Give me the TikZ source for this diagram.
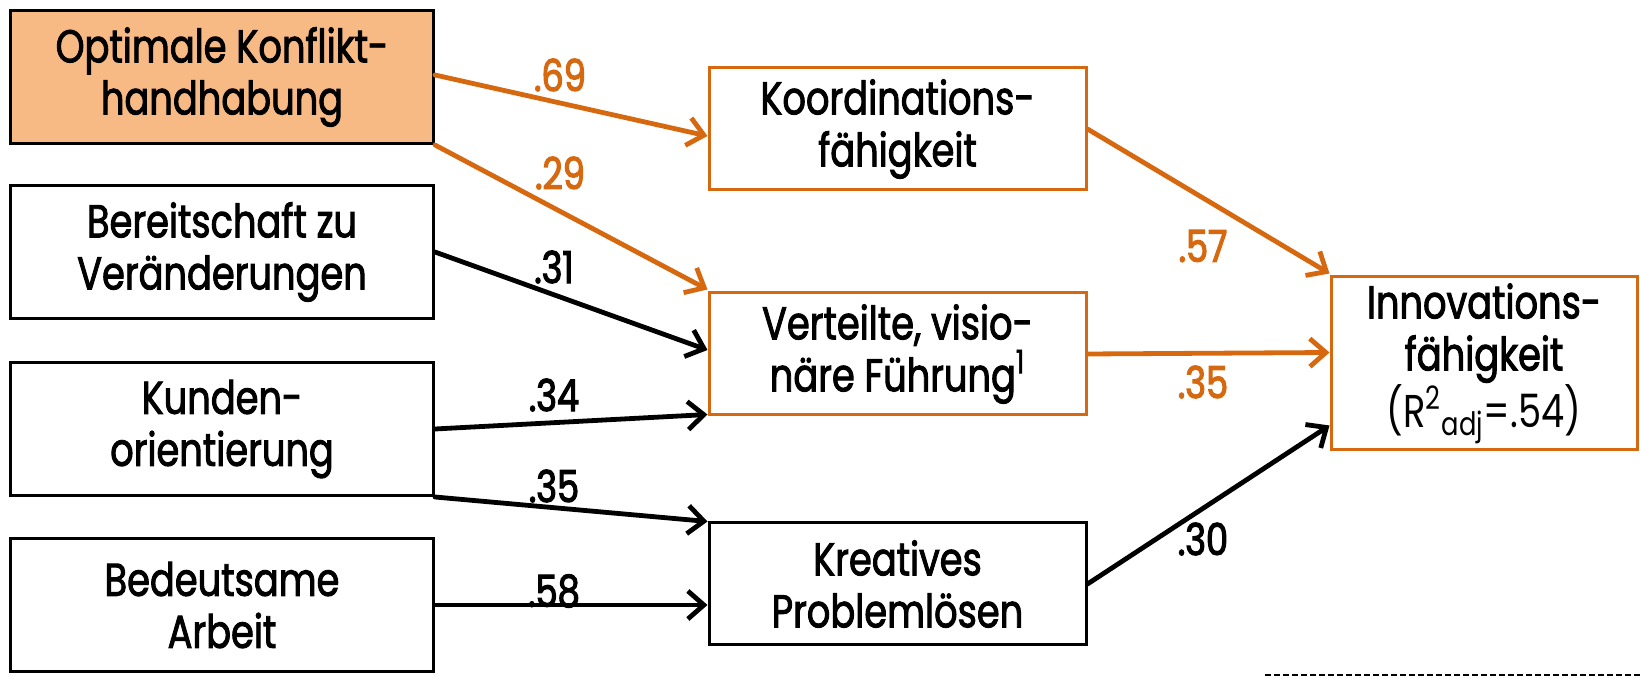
\documentclass[tikz,border=0pt]{standalone}
\usepackage{fontspec}
\setmainfont[FakeStretch=0.8,FakeBold=2]{Poppins}
\newfontfamily\lightfont[FakeStretch=0.8]{Poppins}
\newfontfamily\coeffont[FakeStretch=0.8,FakeBold=2.6]{Poppins}
\usetikzlibrary{arrows.meta,calc}
\definecolor{accent}{RGB}{214,105,15}
\definecolor{accentfill}{RGB}{248,186,133}
\begin{document}
\begin{tikzpicture}[x=0.5pt,y=-0.5pt,
  box/.style={draw=black,line width=1.5pt,align=center,inner sep=0pt,
    font=\fontsize{23}{26}\selectfont},
  srcbox/.style={box,minimum width=211.5pt,minimum height=66.5pt},
  midbox/.style={box,minimum width=188.5pt,minimum height=61pt},
  hot/.style={draw=accent},
  link/.style={line width=2.4pt,line cap=round,
    -{Straight Barb[length=8pt,width=14pt]}},
  hotlink/.style={link,draw=accent},
  coef/.style={inner sep=0pt,font=\coeffont\fontsize{22}{24}\selectfont},
  hotcoef/.style={coef,text=accent}]
\useasboundingbox (0,0) rectangle (1640,678);

% predictors
\node[srcbox,fill=accentfill] (opt) at (222,77) {Optimale Konflikt-\\handhabung};
\node[srcbox] (bereit) at (222,252) {Bereitschaft zu\\Veränderungen};
\node[srcbox] (kunden) at (222,429) {Kunden-\\orientierung};
\node[srcbox] (bedeut) at (222,605) {Bedeutsame\\Arbeit};

% mediators
\node[midbox,hot] (koord) at (897.5,129) {Koordinations-\\fähigkeit};
\node[midbox,hot] (verteilt) at (897.5,354) {Verteilte, visio-\\näre Führung\textsuperscript{1}};
\node[midbox] (kreativ) at (897.5,584) {Kreatives\\Problemlösen};

% outcome
\node[box,hot,minimum width=153pt,minimum height=86.5pt] (innov) at (1484,363.5)
  {Innovations-\\fähigkeit\\{\lightfont (R\textsuperscript{2}\textsubscript{adj}=.54)}};

% paths
\draw[hotlink] ([yshift=1pt]opt.east) -- ([yshift=-3.5pt]koord.west);
\draw[hotlink] (opt.south east) -- ([yshift=1pt]verteilt.north west);
\draw[link] (bereit.east) -- ([yshift=2pt]verteilt.west);
\draw[link] (kunden.east) -- ([yshift=1pt]verteilt.south west);
\draw[link] (kunden.south east) -- (kreativ.north west);
\draw[link] (bedeut.east) -- (bedeut.east -| kreativ.west);
\draw[hotlink] (koord.east) -- ([yshift=1pt]innov.north west);
\draw[hotlink] (verteilt.east) -- ([yshift=5.5pt]innov.west);
\draw[link] (kreativ.east) -- ([yshift=13pt]innov.south west);

% coefficients
\node[hotcoef] (c69) at (560,75) {.69};
\node[hotcoef] (c29) at (560,173) {.29};
\node[coef] (c31) at (554,267) {.31};
\node[coef] (c34) at (554,395) {.34};
\node[coef] (c35a) at (554,486) {.35};
\node[coef] (c58) at (554,591) {.58};
\node[hotcoef] (c57) at (1203,246) {.57};
\node[hotcoef] (c35b) at (1203,382) {.35};
\node[coef] (c30) at (1203,539) {.30};

% footnote frame
\begin{scope}
\clip (0,0) rectangle (1640,678);
\draw[line width=0.8pt,dash pattern=on 3pt off 1.5pt] (1265,720) -- (1265,675) -- (1700,675);
\end{scope}
\end{tikzpicture}
\end{document}
